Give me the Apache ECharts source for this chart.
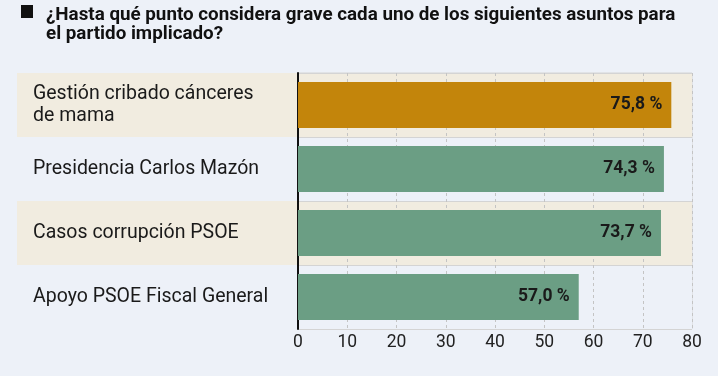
<!DOCTYPE html>
<html>
<head>
<meta charset="utf-8">
<script src="https://cdn.jsdelivr.net/npm/echarts@6/dist/echarts.min.js"></script>
<style>
  html, body { margin: 0; padding: 0; background: #edf1f8; }
  #chart { width: 718px; height: 376px; }
</style>
</head>
<body>
<div id="chart"></div>
<script>
const categories = [
  "Gestión cribado cánceres\nde mama",
  "Presidencia Carlos Mazón",
  "Casos corrupción PSOE",
  "Apoyo PSOE Fiscal General"
];
const values = [75.8, 74.3, 73.7, 57.0];
const barColors = ["#c3850b", "#6b9e84", "#6b9e84", "#6b9e84"];
const titleText = "¿Hasta qué punto considera grave cada uno de los siguientes asuntos para\nel partido implicado?";

const bandColors = ["#f1ece0", "#edf1f8"];
const font = "Roboto, 'DejaVu Sans', sans-serif";

const option = {
  backgroundColor: "#edf1f8",
  animation: false,
  title: {
    text: titleText,
    left: 41,
    top: 1,
    textStyle: {
      fontFamily: font,
      fontSize: 18.8,
      fontWeight: "bold",
      color: "#111",
      lineHeight: 19
    }
  },
  graphic: [
    { type: "rect", shape: { x: 21, y: 5, width: 12, height: 13 }, style: { fill: "#111" } }
  ],
  grid: [
    { left: 17, width: 281, top: 73, height: 256 },
    { left: 298, right: 26, top: 73, height: 256, show: true, borderColor: "#d4d4d4", borderWidth: 1, backgroundColor: "transparent" }
  ],
  xAxis: [
    { gridIndex: 0, type: "value", show: false, min: 0, max: 1 },
    {
      gridIndex: 1,
      type: "value",
      min: 0,
      max: 80,
      interval: 10,
      axisLine: { show: false },
      axisTick: { show: false },
      axisLabel: { fontFamily: font, fontSize: 17.5, color: "#222", margin: 5 },
      splitLine: { show: true, lineStyle: { type: [3, 3], color: "#c4c4c4", width: 1 } }
    }
  ],
  yAxis: [
    {
      gridIndex: 0,
      type: "category",
      inverse: true,
      data: categories,
      axisLine: { show: false },
      axisTick: { show: false },
      splitArea: { show: true, areaStyle: { color: bandColors } },
      axisLabel: {
        inside: true,
        margin: 16,
        align: "left",
        fontFamily: font,
        fontSize: 19.5,
        lineHeight: 22,
        color: "#1a1a1a"
      }
    },
    {
      gridIndex: 1,
      type: "category",
      inverse: true,
      data: categories,
      axisLine: { show: true, lineStyle: { color: "#111", width: 2 } },
      axisTick: { show: false },
      axisLabel: { show: false },
      splitArea: { show: true, areaStyle: { color: bandColors } },
      splitLine: { show: true, lineStyle: { color: "#d4d4d4", width: 1 } }
    }
  ],
  series: [
    {
      type: "bar",
      xAxisIndex: 1,
      yAxisIndex: 1,
      barWidth: 46,
      data: values.map((v, i) => ({ value: v, itemStyle: { color: barColors[i] } })),
      label: {
        show: true,
        position: "insideRight",
        distance: 9,
        fontFamily: font,
        fontSize: 17.5,
        fontWeight: "bold",
        color: "#1a1a1a",
        formatter: p => p.value.toFixed(1).replace(".", ",") + " %"
      },
      z: 3
    }
  ]
};

const chart = echarts.init(document.getElementById("chart"));
chart.setOption(option);
</script>
</body>
</html>
